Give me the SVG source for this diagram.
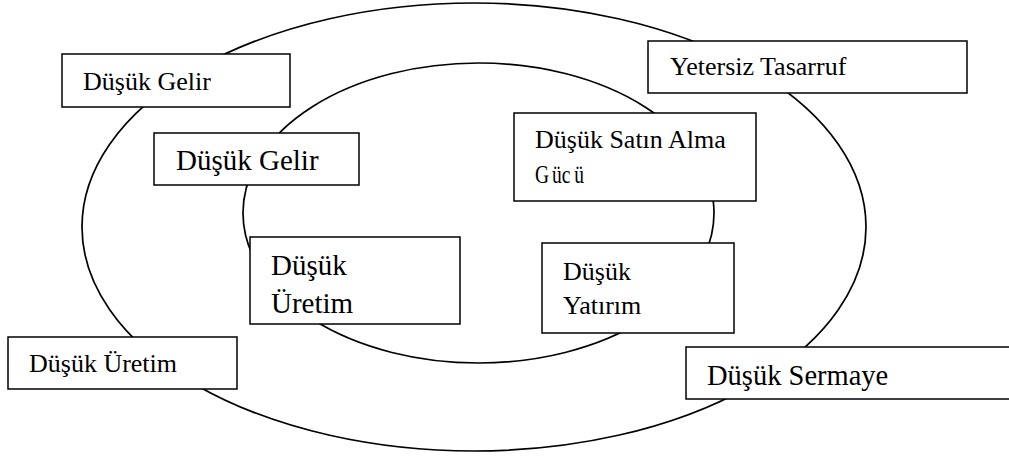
<svg xmlns="http://www.w3.org/2000/svg" width="1009" height="458" viewBox="0 0 1009 458">
<style>
.ring{fill:none;stroke:#000;stroke-width:1.7}
.box{fill:#fff;stroke:#000;stroke-width:1.5}
.t{font-family:"Liberation Serif","Times New Roman",serif;fill:#000;font-size:26px}
.big{font-size:29px}
</style>
<rect width="1009" height="458" fill="#fff"/>
<g id="rings">
<ellipse class="ring" cx="474" cy="227" rx="392" ry="224"/>
<ellipse class="ring" cx="478.5" cy="213" rx="235.5" ry="150"/>
</g>
<g id="connectors"></g>
<g id="n-outer-gelir">
<rect class="box" x="62" y="54" width="228" height="53"/>
<text class="t" x="83" y="90">Düşük Gelir</text>
</g>
<g id="n-tasarruf">
<rect class="box" x="648" y="41" width="319" height="52"/>
<text class="t" x="670" y="75">Yetersiz Tasarruf</text>
</g>
<g id="n-inner-gelir">
<rect class="box" x="154" y="133" width="205" height="52"/>
<text class="t big" x="176" y="170">Düşük Gelir</text>
</g>
<g id="n-satin-alma">
<rect class="box" x="514" y="113" width="242" height="88"/>
<text class="t" x="535" y="148">Düşük Satın Alma</text>
<text class="t" transform="translate(535,183) scale(0.75,1)" x="0" y="0">G<tspan dx="4">üc</tspan><tspan dx="5">ü</tspan></text>
</g>
<g id="n-inner-uretim">
<rect class="box" x="250" y="237" width="210" height="87"/>
<text class="t big" x="271" y="275">Düşük</text>
<text class="t big" x="271" y="313">Üretim</text>
</g>
<g id="n-yatirim">
<rect class="box" x="542" y="243" width="192" height="90"/>
<text class="t" x="563" y="280">Düşük</text>
<text class="t" x="563" y="314">Yatırım</text>
</g>
<g id="n-outer-uretim">
<rect class="box" x="8" y="337" width="229" height="52"/>
<text class="t" x="29" y="372">Düşük Üretim</text>
</g>
<g id="n-sermaye">
<rect class="box" x="686" y="347" width="340" height="52"/>
<text class="t" x="707" y="385" style="font-size:28.5px">Düşük Sermaye</text>
</g>
</svg>
